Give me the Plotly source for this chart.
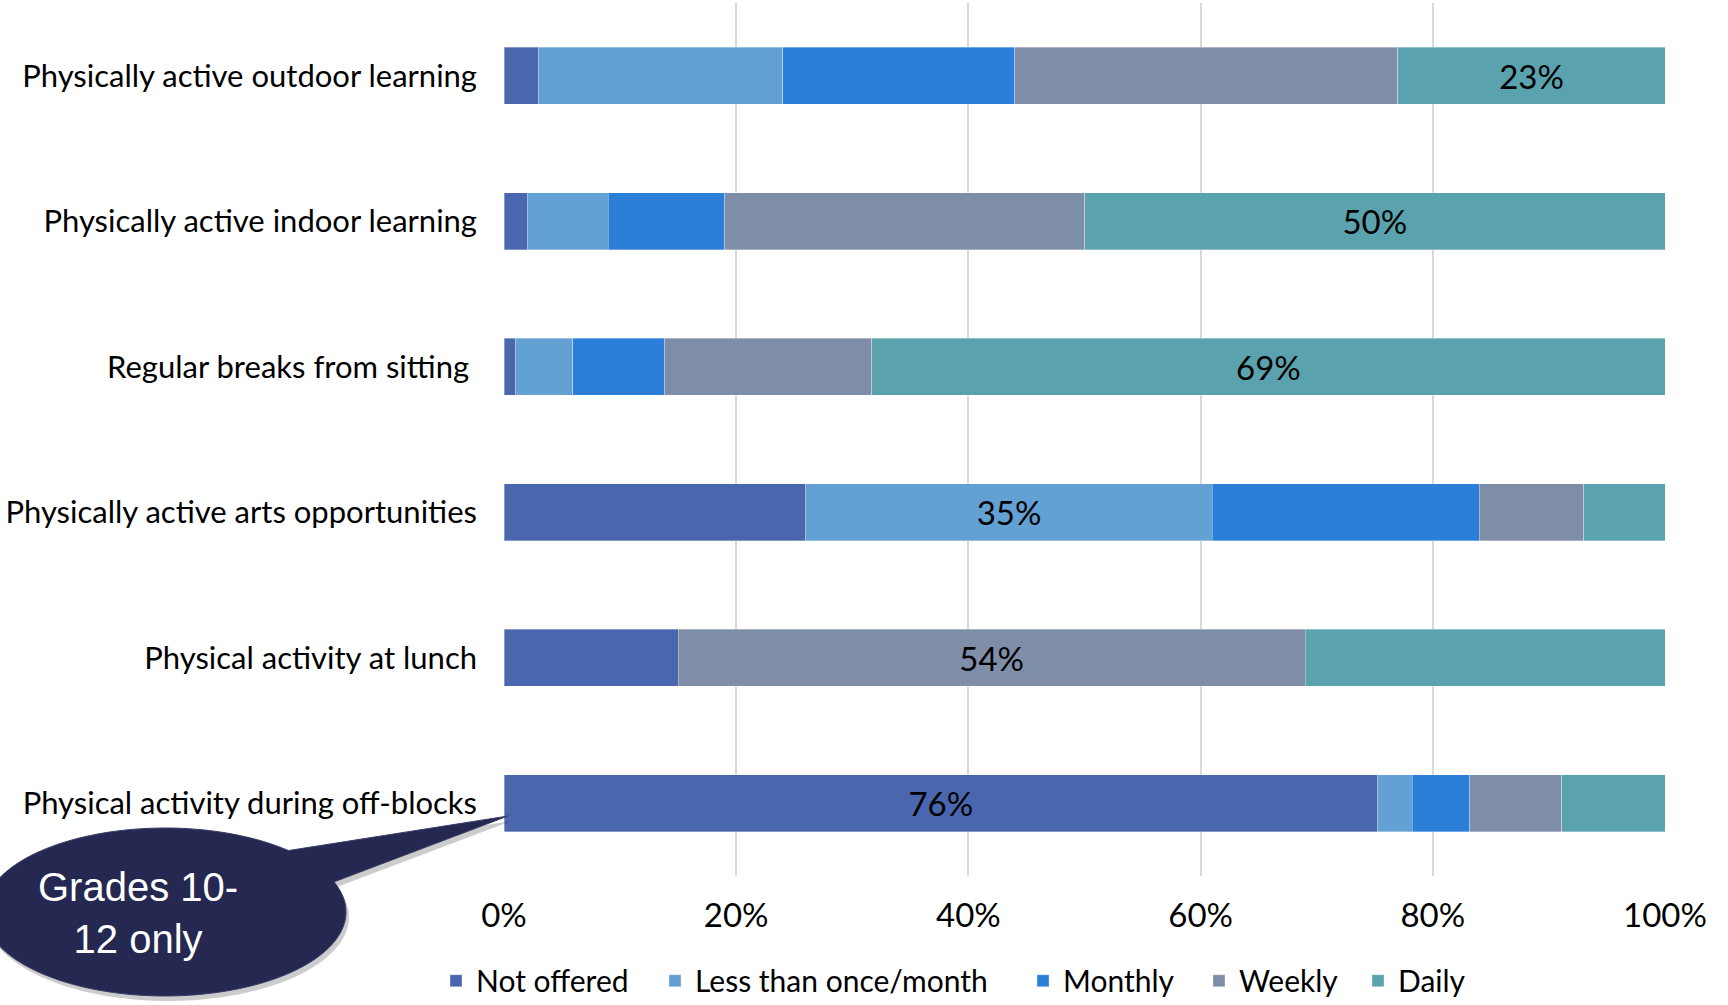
import numpy as np
import plotly.graph_objects as go

# Activity categories, top to bottom
categories = [
    "Physically active outdoor learning",
    "Physically active indoor learning",
    "Regular breaks from sitting\u00a0",
    "Physically active arts opportunities",
    "Physical activity at lunch",
    "Physical activity during off-blocks",
]

# Frequency responses (%), one list per series, in category order
not_offered = [3, 2, 1, 26, 15, 76]
less_than_monthly = [21, 7, 5, 35, 0, 3]
monthly = [20, 10, 8, 23, 0, 5]
weekly = [33, 31, 18, 9, 54, 8]
daily = [23, 50, 69, 7, 31, 9]

series_names = ["Not offered", "Less than once/month", "Monthly", "Weekly", "Daily"]
series_values = [not_offered, less_than_monthly, monthly, weekly, daily]
series_colors = ["#4A66AE", "#63A0D3", "#2B7FD8", "#7F8EA8", "#5AA3AE"]

# Which series carries the value label on each row
labelled_series = ["Daily", "Daily", "Daily", "Less than once/month", "Weekly", "Not offered"]

tick_vals = [0, 20, 40, 60, 80, 100]
tick_text = ["0%", "20%", "40%", "60%", "80%", "100%"]

W, H = 1728, 1005
M_L, M_R, M_T, M_B = 504, 63, 3, 129
PW, PH = W - M_L - M_R, H - M_T - M_B

# Horizontal pixel position of each legend swatch
legend_swatch_px = [455, 674, 1042, 1218, 1377]

fig = go.Figure()
legend_layouts = {}
for i, (name, vals, color) in enumerate(zip(series_names, series_values, series_colors)):
    text = [f"{v}%" if lab == name else "" for v, lab in zip(vals, labelled_series)]
    legend_id = "legend" if i == 0 else f"legend{i + 1}"
    fig.add_trace(go.Bar(
        name=name, y=categories, x=vals, orientation="h",
        marker=dict(color=color, line=dict(color="rgba(255,255,255,0.55)", width=0.6)),
        text=text, textposition="inside", insidetextanchor="middle",
        constraintext="none", textangle=0,
        textfont=dict(family="Lato", size=33, color="#000000"),
        hoverinfo="x+y+name", legend=legend_id,
    ))
    legend_layouts[legend_id] = dict(
        orientation="h", x=(legend_swatch_px[i] - 19 - M_L) / PW, xanchor="left",
        y=-0.12, yanchor="middle",
        font=dict(family="Lato", size=30, color="#000000"),
        itemwidth=30, bgcolor="rgba(0,0,0,0)",
    )


def px_to_paper(px, py):
    return (px - M_L) / PW, (H - M_B - py) / PH


# Speech-bubble callout: ellipse with a tail pointing at the off-blocks bar
cx, cy, rx, ry = 165, 912, 181, 84
tip = (508, 816)
t_start = np.deg2rad(-21.0)
t_end = np.deg2rad(313.0)
ts = np.linspace(t_start, t_end, 160)
pts = [(cx + rx * np.cos(t), cy + ry * np.sin(t)) for t in ts] + [tip]


def path_from(points, dx=0, dy=0):
    segs = []
    for i, (px, py) in enumerate(points):
        x, y = px_to_paper(px + dx, py + dy)
        segs.append(("M" if i == 0 else "L") + f"{x:.5f},{y:.5f}")
    return " ".join(segs) + " Z"


fig.add_shape(type="path", xref="paper", yref="paper", path=path_from(pts, 3, 5),
              fillcolor="rgba(0,0,0,0.20)", line=dict(width=0), layer="above")
fig.add_shape(type="path", xref="paper", yref="paper", path=path_from(pts),
              fillcolor="#252850", line=dict(color="#3a3d66", width=1), layer="above")

ax, ay = px_to_paper(138, 913)
fig.add_annotation(x=ax, y=ay, xref="paper", yref="paper", showarrow=False,
                   xanchor="center", yanchor="middle",
                   text="Grades 10-<br>12 only", align="center",
                   font=dict(family="Liberation Sans", size=40, color="#FFFFFF"))

fig.update_layout(
    width=W, height=H,
    barmode="stack", barnorm="percent", bargap=0.61,
    plot_bgcolor="#FFFFFF", paper_bgcolor="#FFFFFF",
    margin=dict(l=M_L, r=M_R, t=M_T, b=M_B, autoexpand=False),
    font=dict(family="Lato", color="#000000"),
    showlegend=True,
    xaxis=dict(range=[0, 100], tickvals=tick_vals, ticktext=tick_text,
               showgrid=True, gridcolor="#D9D9D9", gridwidth=1.5,
               zeroline=False, showline=False, ticks="", ticklabelstandoff=17,
               tickfont=dict(family="Lato", size=33, color="#000000")),
    yaxis=dict(categoryorder="array", categoryarray=categories, autorange="reversed",
               showgrid=False, zeroline=False, showline=False, ticks="",
               ticklabelstandoff=26,
               tickfont=dict(family="Lato", size=31, color="#000000")),
    **legend_layouts,
)

fig.write_html("out.html")
